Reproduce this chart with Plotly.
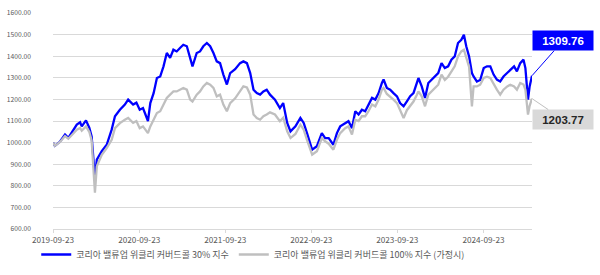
import plotly.graph_objects as go

dates = [
    "2019-09-23","2019-10-01","2019-10-23","2019-11-13","2019-11-27","2019-12-11","2020-01-02","2020-01-16",
    "2020-01-23","2020-02-10","2020-02-24","2020-03-05","2020-03-12","2020-03-19","2020-03-27","2020-04-17",
    "2020-05-08","2020-05-29","2020-06-12","2020-07-03","2020-07-24","2020-08-07","2020-08-28","2020-09-11",
    "2020-09-25","2020-10-09","2020-10-30","2020-11-09","2020-11-23","2020-12-07","2020-12-21","2021-01-04",
    "2021-01-18","2021-02-01","2021-02-15","2021-03-01","2021-03-15","2021-03-29","2021-04-13","2021-04-27",
    "2021-05-07","2021-05-25","2021-06-08","2021-06-22","2021-07-07","2021-07-21","2021-08-04","2021-08-18",
    "2021-09-01","2021-09-15","2021-09-30","2021-10-14","2021-11-04","2021-11-25","2021-12-09","2021-12-24",
    "2022-01-07","2022-01-21","2022-02-04","2022-02-18","2022-03-04","2022-03-18","2022-04-01","2022-04-22",
    "2022-05-13","2022-05-27","2022-06-13","2022-06-27","2022-07-18","2022-08-08","2022-08-22","2022-09-05",
    "2022-09-27","2022-10-17","2022-11-07","2022-11-21","2022-12-06","2022-12-26","2023-01-10","2023-01-24",
    "2023-02-14","2023-02-28","2023-03-15","2023-03-29","2023-04-12","2023-04-26","2023-05-10","2023-05-24",
    "2023-06-08","2023-06-22","2023-07-06","2023-07-20","2023-07-27","2023-08-10","2023-08-24","2023-09-07",
    "2023-09-22","2023-10-05","2023-10-20","2023-11-03","2023-11-17","2023-12-01","2023-12-15","2023-12-22",
    "2024-01-05","2024-01-19","2024-02-02","2024-02-16","2024-03-01","2024-03-15","2024-03-29","2024-04-12",
    "2024-04-26","2024-05-10","2024-05-24","2024-06-07","2024-06-21","2024-07-02","2024-07-12","2024-07-24",
    "2024-08-05","2024-08-12","2024-08-26","2024-09-09","2024-09-24","2024-10-08","2024-10-22","2024-11-05",
    "2024-11-19","2024-12-03","2024-12-17","2025-01-02","2025-01-15","2025-01-31","2025-02-12","2025-02-26",
    "2025-03-12","2025-03-20","2025-03-31","2025-04-07","2025-04-17",
]

cc30 = [
    1000,985,1005,1037,1022,1045,1083,1094,
    1075,1103,1069,1029,936,835,921,960,
    990,1060,1122,1152,1176,1199,1176,1185,
    1152,1160,1100,1183,1229,1299,1306,1353,
    1415,1392,1430,1422,1438,1453,1446,1392,
    1353,1415,1422,1446,1461,1446,1415,1376,
    1368,1315,1269,1322,1340,1368,1376,1368,
    1322,1245,1229,1222,1237,1245,1222,1199,
    1160,1183,1091,1052,1075,1114,1091,1044,
    967,983,1044,1021,1021,990,1044,1075,
    1091,1099,1067,1145,1130,1152,1145,1176,
    1207,1199,1229,1276,1292,1253,1245,1229,
    1214,1183,1168,1191,1215,1229,1270,1299,
    1260,1207,1276,1292,1306,1322,1368,1345,
    1353,1384,1399,1461,1476,1499,1446,1399,
    1322,1306,1283,1290,1345,1353,1353,1315,
    1292,1283,1306,1322,1337,1353,1330,1368,
    1384,1345,1199,1260,1309.76,
]

cc100 = [
    1000,985,1003,1030,1018,1035,1060,1068,
    1055,1075,1050,1010,900,768,890,944,
    975,1013,1067,1090,1106,1114,1092,1100,
    1067,1075,1044,1075,1106,1137,1145,1176,
    1207,1222,1237,1237,1245,1253,1245,1199,
    1190,1222,1237,1260,1276,1268,1253,1214,
    1222,1176,1145,1183,1205,1237,1260,1255,
    1222,1130,1114,1106,1122,1130,1140,1130,
    1099,1115,1052,1021,1040,1083,1060,1013,
    944,960,1021,1006,995,967,1013,1044,
    1067,1075,1037,1106,1100,1122,1122,1145,
    1176,1168,1199,1245,1253,1225,1214,1199,
    1183,1152,1114,1150,1168,1190,1220,1237,
    1214,1168,1222,1237,1253,1268,1315,1290,
    1305,1330,1353,1399,1422,1430,1392,1350,
    1168,1260,1260,1268,1299,1305,1299,1269,
    1245,1222,1245,1260,1268,1260,1245,1276,
    1269,1245,1130,1170,1203.77,
]

tick_dates = ["2019-09-23","2020-09-23","2021-09-23","2022-09-23","2023-09-23","2024-09-23"]
name30 = "코리아 밸류업 위클리 커버드콜 30% 지수"
name100 = "코리아 밸류업 위클리 커버드콜 100% 지수 (가정시)"

fig = go.Figure()
fig.add_trace(go.Scatter(x=dates, y=cc30, mode="lines", name=name30,
                         line=dict(color="#0000FF", width=2.3)))
fig.add_trace(go.Scatter(x=dates, y=cc100, mode="lines", name=name100,
                         line=dict(color="#BFBFBF", width=2.3)))

fig.add_annotation(x=dates[-1], y=cc30[-1], xref="x", yref="y",
                   text="<b>%.2f</b>" % cc30[-1], showarrow=True, arrowhead=0,
                   arrowcolor="#0000FF", arrowwidth=1, ax=31, ay=-35,
                   bgcolor="#0000FF", font=dict(color="white", size=11.5, family="Liberation Sans"),
                   width=56, height=15, borderpad=2)
fig.add_annotation(x=dates[-1], y=cc100[-1], xref="x", yref="y",
                   text="<b>%.2f</b>" % cc100[-1], showarrow=True, arrowhead=0,
                   arrowcolor="#BFBFBF", arrowwidth=1, ax=31, ay=21,
                   bgcolor="#D9D9D9", font=dict(color="#262626", size=11.5, family="Liberation Sans"),
                   width=56, height=15, borderpad=2)

fig.update_layout(
    width=600, height=275,
    margin=dict(l=53, r=68, t=13, b=46, autoexpand=False),
    paper_bgcolor="white", plot_bgcolor="white",
    font=dict(family="Noto Sans CJK KR", color="#595959"),
    showlegend=True,
    legend=dict(orientation="h", x=-0.035, y=-0.118, xanchor="left", yanchor="middle",
                font=dict(size=9, color="#595959"), itemwidth=30,
                tracegroupgap=0, bgcolor="rgba(0,0,0,0)"),
)
fig.update_xaxes(type="date", range=["2019-09-23", "2025-04-17"],
                 tickvals=tick_dates, ticktext=tick_dates,
                 showgrid=False, showline=True, linecolor="#D9D9D9", linewidth=1,
                 ticks="outside", ticklen=3, tickcolor="#D9D9D9",
                 tickfont=dict(size=8.2, color="#595959", family="Noto Sans CJK KR"))
fig.update_yaxes(range=[600, 1600], dtick=100, tickformat=".2f",
                 showgrid=True, gridcolor="#D9D9D9", gridwidth=1,
                 zeroline=False, showline=False, ticks="",
                 ticklabelstandoff=21,
                 tickfont=dict(size=6.7, color="#595959", family="Noto Sans CJK KR"))

fig.write_html("out.html")
